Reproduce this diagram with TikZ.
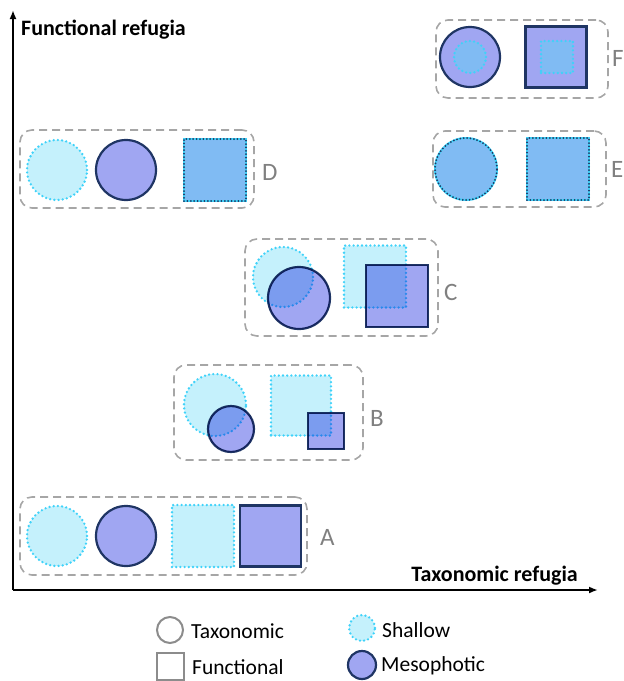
\documentclass[tikz,border=0pt]{standalone}
\usepackage{fontspec}
\setmainfont{Carlito}
\usetikzlibrary{arrows.meta}
\definecolor{shfill}{HTML}{C5F1FC}
\definecolor{shline}{HTML}{3FD2F9}
\definecolor{mefill}{HTML}{A0A6F2}
\definecolor{meline}{HTML}{1F3564}
\definecolor{mixfill}{HTML}{80BBF3}
\definecolor{grpline}{HTML}{A6A6A6}
\definecolor{lblgray}{HTML}{808080}
\definecolor{leggray}{HTML}{8C8C8C}
\tikzset{
  circ/.style={circle, minimum size=#1, inner sep=0pt},
  sq/.style={rectangle, minimum size=#1, inner sep=0pt},
  shallow/.style={fill=shfill, draw=shline, line width=2.6pt, dash pattern=on 0pt off 4.2pt, line cap=round},
  meso/.style={fill=mefill, draw=meline, line width=2.2pt},
  mixed/.style={fill=mixfill, draw=shline, line width=2pt,
    postaction={draw=meline, line width=2pt, dash pattern=on 0pt off 3.4pt, line cap=round}},
  inner/.style={fill=mixfill, draw=shline, line width=2.6pt, dash pattern=on 0pt off 4.2pt, line cap=round},
  grp/.style={draw=grpline, line width=1.6pt, dash pattern=on 8pt off 5pt, rounded corners=12pt, inner sep=0pt},
  lbl/.style={text=lblgray, font=\fontsize{25}{25}\selectfont, anchor=west, inner sep=0pt},
  axlbl/.style={font=\fontsize{22}{22}\selectfont\bfseries, inner sep=0pt},
  legtxt/.style={font=\fontsize{21.5}{21.5}\selectfont, anchor=west, inner sep=0pt},
  legshape/.style={draw=leggray, line width=2pt, fill=white},
  axis/.style={line width=2pt, -{Latex[length=9pt,width=7pt]}}
}
\begin{document}
\begin{tikzpicture}[x=1pt,y=-1pt]
\useasboundingbox (0,0) rectangle (624,681);
% axes
\coordinate (O) at (13,590);
\coordinate (Ytop) at (13,10);
\coordinate (Xend) at (598,590);
\draw[axis] (O) -- (Ytop);
\draw[axis] (O) -- (Xend);
\node[axlbl, anchor=west] (ylab) at (21,30) {Functional refugia};
\node[axlbl, anchor=east] (xlab) at (578,576) {Taxonomic refugia};

% groups
\node[grp, minimum width=172, minimum height=78] (gF) at (522,59) {};
\node[grp, minimum width=173, minimum height=76] (gE) at (519.5,169) {};
\node[grp, minimum width=234, minimum height=78] (gD) at (137,169) {};
\node[grp, minimum width=193, minimum height=97] (gC) at (341.5,287.5) {};
\node[grp, minimum width=189, minimum height=95] (gB) at (268.5,412.5) {};
\node[grp, minimum width=287, minimum height=78] (gA) at (163.5,536) {};

% labels
\node[lbl] (lF) at (612,58) {F};
\node[lbl] (lE) at (611,169) {E};
\node[lbl] (lD) at (262,172) {D};
\node[lbl] (lC) at (444,292) {C};
\node[lbl] (lB) at (370,418) {B};
\node[lbl] (lA) at (320,537) {A};

% F
\node[circ=60, meso] (F1) at (470,57) {};
\node[circ=32, inner] (F1i) at (470,57) {};
\node[sq=61, meso] (F2) at (556,57) {};
\node[sq=32, inner] (F2i) at (557,57) {};

% E
\node[circ=62, mixed] (E1) at (466,169) {};
\node[sq=62, mixed] (E2) at (558,169) {};

% D
\node[circ=60, shallow] (D1) at (57,170) {};
\node[circ=60, meso] (D2) at (126,170) {};
\node[sq=62, mixed] (D3) at (215,170) {};

% C, B shallow parts
\node[circ=60, shallow] (C1) at (283,277) {};
\node[sq=62, shallow] (C3) at (375,276.5) {};
\node[circ=62, shallow] (B1) at (215,405) {};
\node[sq=60, shallow] (B3) at (301,405.5) {};
\begin{scope}[blend mode=multiply]
\node[circ=62, meso] (C2) at (299,298) {};
\node[sq=62, meso] (C4) at (397,296) {};
\node[circ=46, meso] (B2) at (231,429) {};
\node[sq=36, meso] (B4) at (326,431) {};
\end{scope}

% A
\node[circ=60, shallow] (A1) at (57,536) {};
\node[circ=60, meso] (A2) at (126,536) {};
\node[sq=62, shallow] (A3) at (203,536) {};
\node[sq=61, meso] (A4) at (270.5,536) {};

% legend
\node[circ=26, legshape] (L1) at (170,630) {};
\node[legtxt] (T1) at (191,631) {Taxonomic};
\node[sq=27, legshape] (L2) at (170,666) {};
\node[legtxt] (T2) at (192,667) {Functional};
\node[circ=26, shallow] (L3) at (362,628) {};
\node[legtxt] (T3) at (382,630) {Shallow};
\node[circ=28, meso] (L4) at (362,665) {};
\node[legtxt] (T4) at (381,666) {Mesophotic};
\end{tikzpicture}
\end{document}
